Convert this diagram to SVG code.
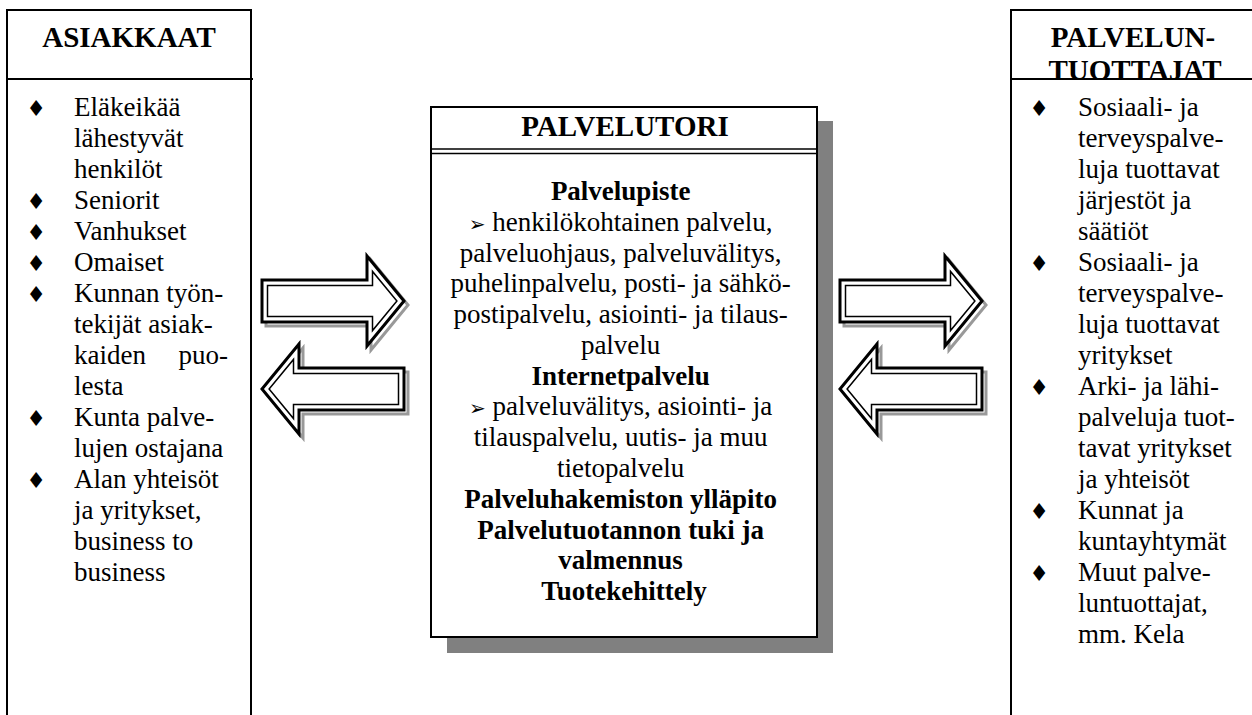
<svg xmlns="http://www.w3.org/2000/svg" xmlns:xlink="http://www.w3.org/1999/xlink" width="1252" height="715" viewBox="0 0 1252 715">
<style>
.frame{fill:#fff;stroke:#000;stroke-width:2}
.ln{stroke:#000;stroke-width:2;fill:none}
.t{font-family:'Liberation Serif','Times New Roman',Tinos,'DejaVu Serif',serif;font-size:27px;fill:#000}
.h{font-family:'Liberation Serif','Times New Roman',Tinos,'DejaVu Serif',serif;font-size:29px;font-weight:bold;text-anchor:middle;fill:#000}
.bd{font-weight:bold}
.c{text-anchor:middle}
.bul{font-family:'DejaVu Sans',sans-serif;font-size:22px;text-anchor:middle;fill:#000}
.arw{font-family:'DejaVu Sans',sans-serif;font-size:20px}
.arrSh{fill:none;stroke:#999;stroke-width:3}
.arrO{fill:#fff;stroke:#000;stroke-width:3;stroke-linejoin:miter}
.arrI{fill:none;stroke:#000;stroke-width:1.5;stroke-linejoin:miter}
</style>
<defs>
<path id="arrOut" d="M0,-21 H105 V-45 L142,0 L105,45 V21 H0 Z"/>
<path id="arrIn" d="M5.5,-15.5 H110.5 V-29.6 L134.9,0 L110.5,29.6 V15.5 H5.5 Z"/>
</defs>

<g id="asiakkaat">
<path class="frame" d="M7,716 V10 H251 V716"/>
<line class="ln" x1="7" y1="79" x2="253" y2="79"/>
<text class="h" x="129" y="47" font-family="Liberation Serif, serif">ASIAKKAAT</text>
<g class="bul">
<text x="36" y="116">♦</text>
<text x="36" y="209">♦</text>
<text x="36" y="240">♦</text>
<text x="36" y="271">♦</text>
<text x="36" y="302">♦</text>
<text x="36" y="426">♦</text>
<text x="36" y="488">♦</text>
</g>
<text class="t" font-family="Liberation Serif, serif">
<tspan x="74" y="116">Eläkeikää</tspan>
<tspan x="74" y="147">lähestyvät</tspan>
<tspan x="74" y="178">henkilöt</tspan>
<tspan x="74" y="209">Seniorit</tspan>
<tspan x="74" y="240">Vanhukset</tspan>
<tspan x="74" y="271">Omaiset</tspan>
<tspan x="74" y="302">Kunnan työn-</tspan>
<tspan x="74" y="333">tekijät asiak-</tspan>
<tspan x="74" y="364">kaiden</tspan>
<tspan x="74" y="395">lesta</tspan>
<tspan x="74" y="426">Kunta palve-</tspan>
<tspan x="74" y="457">lujen ostajana</tspan>
<tspan x="74" y="488">Alan yhteisöt</tspan>
<tspan x="74" y="519">ja yritykset,</tspan>
<tspan x="74" y="550">business to</tspan>
<tspan x="74" y="581">business</tspan>
</text>
<text class="t" x="228" y="364" text-anchor="end">puo-</text>
</g>

<g id="palvelutori">
<rect x="447" y="121" width="386" height="532" fill="#808080"/>
<rect class="frame" x="431" y="107" width="386" height="530"/>
<line x1="431" y1="149" x2="817" y2="149" stroke="#000" stroke-width="1.5"/>
<line x1="431" y1="153.5" x2="817" y2="153.5" stroke="#000" stroke-width="1.5"/>
<text class="h" x="625" y="136">PALVELUTORI</text>
<text class="t c">
<tspan class="bd" x="624" y="200">Palvelupiste</tspan>
<tspan x="624" y="231"><tspan class="arw">➢</tspan> henkilökohtainen palvelu,</tspan>
<tspan x="624" y="262">palveluohjaus, palveluvälitys,</tspan>
<tspan x="624" y="292">puhelinpalvelu, posti- ja sähkö-</tspan>
<tspan x="624" y="323">postipalvelu, asiointi- ja tilaus-</tspan>
<tspan x="624" y="354">palvelu</tspan>
<tspan class="bd" x="624" y="385">Internetpalvelu</tspan>
<tspan x="624" y="415"><tspan class="arw">➢</tspan> palveluvälitys, asiointi- ja</tspan>
<tspan x="624" y="446">tilauspalvelu, uutis- ja muu</tspan>
<tspan x="624" y="477">tietopalvelu</tspan>
<tspan class="bd" x="624" y="508">Palveluhakemiston ylläpito</tspan>
<tspan class="bd" x="624" y="539">Palvelutuotannon tuki ja</tspan>
<tspan class="bd" x="624" y="569">valmennus</tspan>
<tspan class="bd" x="624" y="600">Tuotekehittely</tspan>
</text>
</g>

<g id="palveluntuottajat">
<path class="frame" d="M1256,10 H1011 V716"/>
<line class="ln" x1="1011" y1="79" x2="1256" y2="79"/>
<text class="h" x="1133" y="47">PALVELUN-</text>
<text class="h" x="1135" y="80">TUOTTAJAT</text>
<g class="bul">
<text x="1039" y="116">♦</text>
<text x="1039" y="271">♦</text>
<text x="1039" y="395">♦</text>
<text x="1039" y="519">♦</text>
<text x="1039" y="581">♦</text>
</g>
<text class="t">
<tspan x="1078" y="116">Sosiaali- ja</tspan>
<tspan x="1078" y="147">terveyspalve-</tspan>
<tspan x="1078" y="178">luja tuottavat</tspan>
<tspan x="1078" y="209">järjestöt ja</tspan>
<tspan x="1078" y="240">säätiöt</tspan>
<tspan x="1078" y="271">Sosiaali- ja</tspan>
<tspan x="1078" y="302">terveyspalve-</tspan>
<tspan x="1078" y="333">luja tuottavat</tspan>
<tspan x="1078" y="364">yritykset</tspan>
<tspan x="1078" y="395">Arki- ja lähi-</tspan>
<tspan x="1078" y="426">palveluja tuot-</tspan>
<tspan x="1078" y="457">tavat yritykset</tspan>
<tspan x="1078" y="488">ja yhteisöt</tspan>
<tspan x="1078" y="519">Kunnat ja</tspan>
<tspan x="1078" y="550">kuntayhtymät</tspan>
<tspan x="1078" y="581">Muut palve-</tspan>
<tspan x="1078" y="612">luntuottajat,</tspan>
<tspan x="1078" y="643">mm. Kela</tspan>
</text>
</g>

<g id="connectors">
<g id="arrow-left-to-center">
<use xlink:href="#arrOut" class="arrSh" transform="translate(266,305)"/>
<use xlink:href="#arrOut" class="arrO" transform="translate(262,301)"/>
<use xlink:href="#arrIn" class="arrI" transform="translate(262,301)"/>
</g>
<g id="arrow-center-to-left">
<use xlink:href="#arrOut" class="arrSh" transform="translate(408,393) scale(-1,1)"/>
<use xlink:href="#arrOut" class="arrO" transform="translate(404,389) scale(-1,1)"/>
<use xlink:href="#arrIn" class="arrI" transform="translate(404,389) scale(-1,1)"/>
</g>
<g id="arrow-center-to-right">
<use xlink:href="#arrOut" class="arrSh" transform="translate(844,305)"/>
<use xlink:href="#arrOut" class="arrO" transform="translate(840,301)"/>
<use xlink:href="#arrIn" class="arrI" transform="translate(840,301)"/>
</g>
<g id="arrow-right-to-center">
<use xlink:href="#arrOut" class="arrSh" transform="translate(986,393) scale(-1,1)"/>
<use xlink:href="#arrOut" class="arrO" transform="translate(982,389) scale(-1,1)"/>
<use xlink:href="#arrIn" class="arrI" transform="translate(982,389) scale(-1,1)"/>
</g>
</g>
</svg>
